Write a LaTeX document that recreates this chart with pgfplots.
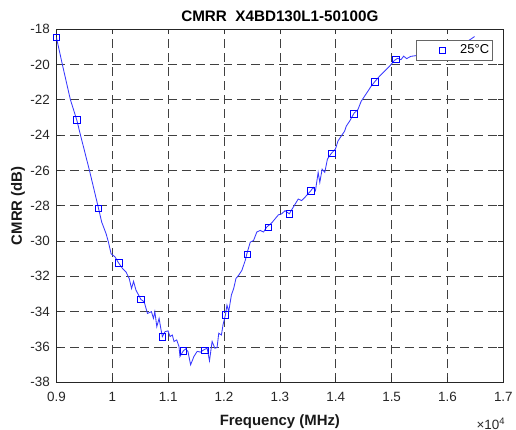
\documentclass[border=0pt]{standalone}
\usepackage{fontspec}
\setmainfont{Liberation Sans}
\usepackage{pgfplots}
\pgfplotsset{compat=1.18}
\definecolor{mlblue}{RGB}{0,0,255}
\definecolor{lineblue}{RGB}{55,55,255}
\begin{document}
\begin{tikzpicture}
\begin{axis}[
 name=ax,
 scale only axis, width=449.3pt, height=355pt,
 xmin=9000, xmax=17000, ymin=-38, ymax=-18,
 xtick={9000,10000,...,17000},
 ytick={-38,-36,...,-18},
 scaled x ticks=base 10:-4,
 xtick scale label code/.code={×10\textsuperscript{4}},
 every x tick scale label/.style={at={(axis description cs:1,0)},anchor=base east,xshift=2pt,yshift=-41.5pt,inner sep=0pt,font=\fontsize{13.5}{15}\selectfont,color=black!85},
 /pgf/number format/assume math mode=true,
 tick label style={font=\fontsize{13.5}{15}\selectfont, color=black!85},
 yticklabel style={xshift=-3pt},
 xticklabel style={yshift=-6pt},
 tick align=inside, major tick length=5pt,
 tick style={black!80, line width=0.6pt},
 grid=major, major grid style={black!75, dash pattern=on 9pt off 5pt, line width=0.7pt},
 axis line style={black!85, line width=0.6pt},
 title={\textbf{CMRR\ \ X4BD130L1-50100G}},
 title style={font=\fontsize{15.3}{17}\selectfont, at={(axis description cs:0.5,1.006)}, anchor=base, inner sep=0pt},
 xlabel={\textbf{Frequency (MHz)}},
 ylabel={\textbf{CMRR (dB)}},
 xlabel style={at={(axis description cs:0.5,-0.123)}, anchor=base, inner sep=0pt},
 ylabel style={at={(axis description cs:-0.0772,0.5)}, anchor=base, inner sep=0pt},
 label style={font=\fontsize{15}{17}\selectfont, color=black!90},
 legend style={at={(axis description cs:0.9755,0.9679)},anchor=north east, draw=black!60, line width=0.6pt, font=\fontsize{13}{15}\selectfont, inner xsep=1pt, inner ysep=1.65pt, column sep=10pt, nodes={inner sep=2pt, text height=9.5pt, text depth=2.5pt}},
 legend image code/.code={\path[draw=none,fill=none] (0pt,0pt) -- (31.4pt,0pt); \draw[#1,mlblue] plot coordinates {(25.5pt,0pt)};},
]
\addplot[lineblue, line width=0.85pt, forget plot] coordinates {
(9000,-18.47) (9107,-20.01) (9249,-21.98) (9367,-23.17) (9427,-23.95)
(9593,-26.02) (9753,-28.14) (9811,-28.93) (9890,-29.59) (9931,-30.06)
(9979,-30.72) (10050,-30.90) (10109,-31.22) (10185,-31.56) (10246,-31.75)
(10304,-32.13) (10345,-32.69) (10381,-32.28) (10424,-32.78) (10513,-33.31)
(10571,-33.44) (10630,-34.10) (10701,-34.00) (10737,-34.38) (10762,-34.00)
(10797,-34.85) (10838,-34.38) (10868,-34.94) (10897,-35.41) (10945,-35.13)
(10998,-35.09) (11034,-35.41) (11075,-35.32) (11105,-35.69) (11153,-35.60)
(11194,-35.97) (11212,-36.54) (11271,-36.22) (11313,-36.11) (11354,-36.25)
(11402,-37.01) (11461,-36.54) (11520,-36.25) (11580,-36.29) (11639,-36.16)
(11698,-36.07) (11740,-36.78) (11787,-35.69) (11835,-36.07) (11876,-36.03)
(11906,-35.22) (11954,-35.32) (11982,-34.75) (12025,-34.19) (12053,-33.63)
(12084,-34.00) (12132,-33.06) (12173,-32.69) (12214,-32.12) (12262,-31.94)
(12320,-31.66) (12381,-31.09) (12409,-30.72) (12470,-30.06) (12529,-29.97)
(12587,-29.49) (12648,-29.40) (12707,-29.49) (12765,-29.21) (12854,-28.97)
(12915,-28.74) (12973,-28.52) (13032,-28.46) (13093,-28.28) (13169,-28.46)
(13240,-28.08) (13329,-27.62) (13388,-27.71) (13449,-27.52) (13555,-27.15)
(13596,-26.96) (13637,-27.15) (13685,-26.11) (13715,-26.68) (13756,-25.93)
(13804,-26.11) (13851,-25.36) (13922,-25.03) (13993,-24.80) (14041,-24.33)
(14100,-24.05) (14160,-23.77) (14189,-23.49) (14249,-23.21) (14326,-22.77)
(14397,-22.55) (14456,-22.08) (14516,-21.80) (14575,-21.52) (14634,-21.23)
(14705,-20.95) (14783,-20.67) (14872,-20.39) (14961,-20.11) (15050,-19.77)
(15109,-19.65) (15167,-19.73) (15215,-19.53) (15269,-19.67) (15345,-19.54)
(15554,-19.45) (15821,-19.28) (16088,-19.05) (16265,-18.83) (16402,-18.60)
(16484,-18.42)
};
\addplot[mlblue, only marks, mark=square, mark size=3.3pt, mark options={mlblue, line width=0.6pt}] coordinates {
(9000,-18.47) (9367,-23.15) (9753,-28.14) (10114,-31.22) (10509,-33.31)
(10897,-35.42) (11274,-36.22) (11657,-36.18) (12025,-34.19) (12417,-30.76)
(12796,-29.23) (13169,-28.46) (13555,-27.15) (13929,-25.03) (14320,-22.81)
(14699,-20.99) (15078,-19.71)
};
\addlegendentry{25°C}
\end{axis}
\path ([xshift=-56.7pt,yshift=-47.7pt]ax.south west) rectangle ([xshift=10pt,yshift=29.3pt]ax.north east);
\end{tikzpicture}
\end{document}
